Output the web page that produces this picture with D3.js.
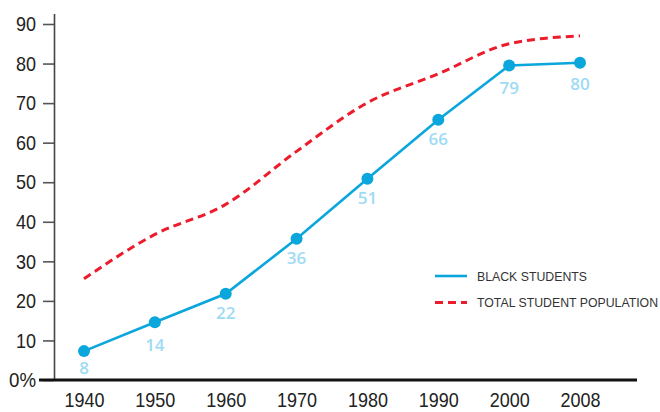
<!DOCTYPE html>
<html><head><meta charset="utf-8">
<script src="https://cdn.jsdelivr.net/npm/d3@7"></script>
<style>
body{margin:0;background:#fff;}
svg{display:block;}
</style></head>
<body>
<svg id="chart" width="660" height="412"></svg>
<script>
const years = ["1940","1950","1960","1970","1980","1990","2000","2008"];
const blackStudents = [7.3, 14.6, 21.8, 35.7, 50.9, 65.8, 79.5, 80.2];
const blackLabels = ["8","14","22","36","51","66","79","80"];
const labelValues = [8, 14, 22, 36, 51, 66, 79, 80];
const totalPopulation = [25.6, 36.8, 44.4, 57.8, 70.1, 77.4, 85.0, 87.0];
const yTicks = [0,10,20,30,40,50,60,70,80,90];
const legendItems = ["BLACK STUDENTS","TOTAL STUDENT POPULATION"];

const svg = d3.select("#chart");
const x = d3.scalePoint().domain(years).range([84, 580]);
const y = d3.scaleLinear().domain([0, 90]).range([380, 24]);

const fam = "'Liberation Sans',Arial,sans-serif";
// condensed look: squeeze glyphs horizontally
function condense(sel, perChar){
  sel.attr("font-family",fam).attr("font-size",21).attr("fill","#222")
    .attr("lengthAdjust","spacingAndGlyphs")
    .attr("textLength", function(){ const t=this.textContent; return t.includes("%") ? 27 : t.length*perChar; });
}

// Y axis
const yAxis = svg.append("g").attr("transform","translate(54,0)")
  .call(d3.axisLeft(y).tickValues(yTicks).tickSize(11).tickPadding(7)
    .tickFormat(d => d === 0 ? "0%" : d));
yAxis.select(".domain").remove();
yAxis.selectAll(".tick line").attr("stroke","#555").attr("stroke-width",1.6);
condense(yAxis.selectAll(".tick text"), 10);
svg.append("line").attr("x1",54.5).attr("x2",54.5).attr("y1",14).attr("y2",380)
  .attr("stroke","#444").attr("stroke-width",1.6);

// X axis
const xAxis = svg.append("g").attr("transform","translate(0,380)")
  .call(d3.axisBottom(x).tickSize(0).tickPadding(12));
xAxis.select(".domain").remove();
condense(xAxis.selectAll(".tick text"), 10);
svg.append("line").attr("x1",39).attr("x2",637).attr("y1",380).attr("y2",380)
  .attr("stroke","#111").attr("stroke-width",3);

// Total line (dashed red)
const redLine = d3.line().x((d,i)=>x(years[i])).y(d=>y(d)).curve(d3.curveMonotoneX);
svg.append("path").datum(totalPopulation).attr("d",redLine)
  .attr("fill","none").attr("stroke","#ec1c2d").attr("stroke-width",3)
  .attr("stroke-dasharray","8,5");

// Black students
const blueLine = d3.line().x((d,i)=>x(years[i])).y(d=>y(d));
svg.append("path").datum(blackStudents).attr("d",blueLine)
  .attr("fill","none").attr("stroke","#0aa6dc").attr("stroke-width",2.6);
svg.selectAll("circle.pt").data(blackStudents).join("circle")
  .attr("class","pt").attr("cx",(d,i)=>x(years[i])).attr("cy",d=>y(d))
  .attr("r",6).attr("fill","#0aa6dc");
svg.selectAll("text.vl").data(blackLabels).join("text")
  .attr("class","vl").attr("x",(d,i)=>x(years[i])).attr("y",(d,i)=>y(labelValues[i])+26)
  .attr("text-anchor","middle").attr("font-family","'Open Sans',sans-serif")
  .attr("font-weight",600).attr("font-size",17).attr("fill","#9edbf4").text(d=>d);

// Legend
const leg = svg.append("g");
leg.append("line").attr("x1",435).attr("x2",467).attr("y1",276).attr("y2",276)
  .attr("stroke","#0aa6dc").attr("stroke-width",2.6);
leg.append("line").attr("x1",435).attr("x2",467).attr("y1",302.5).attr("y2",302.5)
  .attr("stroke","#ec1c2d").attr("stroke-width",3).attr("stroke-dasharray","8,5");
leg.selectAll("text").data(legendItems).join("text")
  .attr("x",477).attr("y",(d,i)=>280.5+i*26.5)
  .attr("font-family","'Liberation Sans',Arial,sans-serif").attr("font-size",12.3)
  .attr("fill","#333").text(d=>d);
</script>
</body></html>
